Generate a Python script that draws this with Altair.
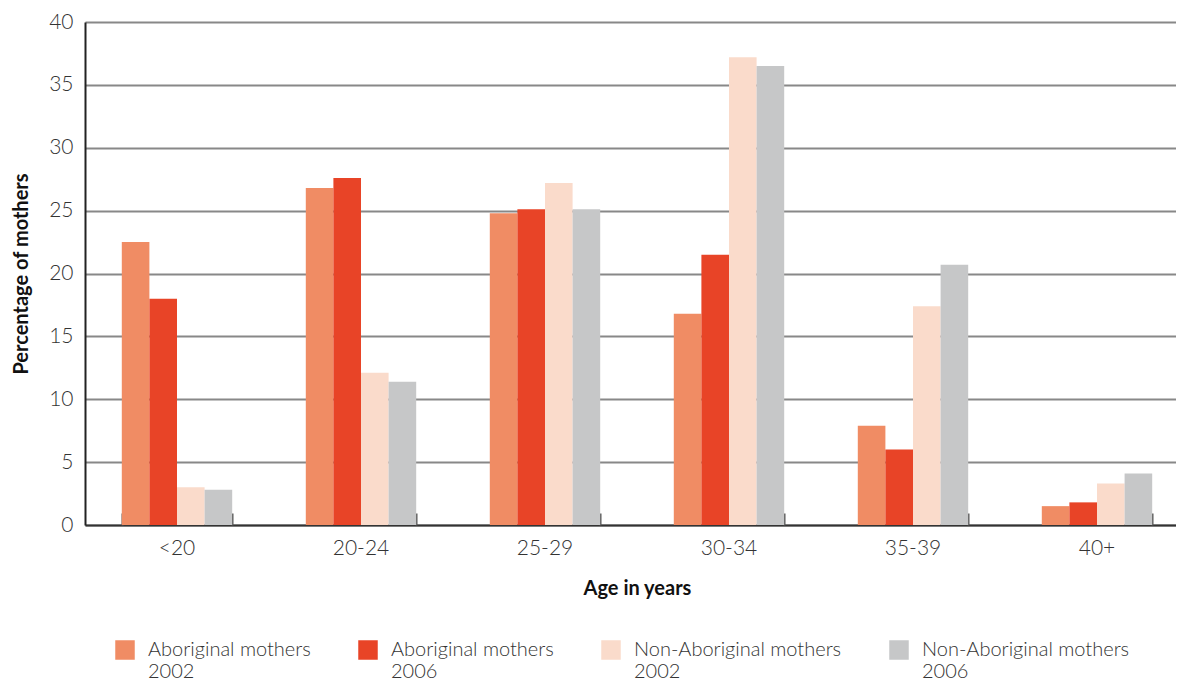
import altair as alt
import pandas as pd

ages = ["<20", "20-24", "25-29", "30-34", "35-39", "40+"]
series = ["Aboriginal mothers|2002", "Aboriginal mothers|2006",
          "Non-Aboriginal mothers|2002", "Non-Aboriginal mothers|2006"]
ab2002 = [22.5, 26.8, 24.8, 16.8, 7.9, 1.5]
ab2006 = [18.0, 27.6, 25.1, 21.5, 6.0, 1.8]
non2002 = [3.0, 12.1, 27.2, 37.2, 17.4, 3.3]
non2006 = [2.8, 11.4, 25.1, 36.5, 20.7, 4.1]
colors = ["#F08C64", "#E84427", "#FADBCB", "#C6C7C8"]

rows = []
for s, vals in zip(series, [ab2002, ab2006, non2002, non2006]):
    for a, v in zip(ages, vals):
        rows.append({"age": a, "series": s, "value": v})
df = pd.DataFrame(rows)

FONT = "Lato"
H = 503
W = 1091
FULL = 1104

xscale = alt.Scale(domain=ages, range=[0, FULL], paddingInner=0.4, paddingOuter=0.2)

bars = alt.Chart(df).mark_bar().encode(
    x=alt.X("age:N", scale=xscale, sort=ages,
            axis=alt.Axis(title="Age in years", ticks=False, labelAngle=0,
                          labelPadding=12, titlePadding=20,
                          domainColor="#333333", domainWidth=2)),
    xOffset=alt.XOffset("series:N", sort=series, scale=alt.Scale(paddingInner=0)),
    y=alt.Y("value:Q", scale=alt.Scale(domain=[0, 40], nice=False),
            axis=alt.Axis(title="Percentage of mothers", values=list(range(0, 41, 5)),
                          ticks=False, domainColor="#222222", domainWidth=2,
                          gridColor="#888888", gridWidth=2, labelPadding=12,
                          titlePadding=17)),
    color=alt.Color("series:N", sort=series,
                    scale=alt.Scale(domain=series, range=colors),
                    legend=alt.Legend(title=None, orient="none", direction="horizontal",
                                      columns=4, legendX=30, legendY=618,
                                      symbolType="square", symbolSize=380,
                                      symbolStrokeWidth=0, symbolOpacity=1,
                                      labelExpr="split(datum.label, '|')",
                                      labelBaseline="middle", labelOffset=13,
                                      columnPadding=47, labelLimit=300)),
)

ticks = alt.Chart(df).mark_rule(opacity=0).encode(
    x=alt.X("age:N", scale=xscale, sort=ages, bandPosition=0,
            axis=alt.Axis(orient="top", offset=-H, title=None, labels=False,
                          domain=False, ticks=True, tickSize=12, tickWidth=2,
                          tickColor="#555555", tickBand="extent", grid=False)),
)

chart = alt.layer(bars, ticks).resolve_axis(x="independent").properties(
    width=W, height=H,
    autosize=alt.AutoSizeParams(type="none"),
    padding={"left": 77, "top": 14, "right": 0, "bottom": 157}
).configure_view(stroke=None).configure_axis(
    labelFont=FONT, titleFont=FONT, labelFontSize=21, titleFontSize=20,
    labelColor="#333333", titleColor="#111111", labelFontWeight=300,
    titleFontWeight="bold"
).configure_axisX(grid=False).configure_legend(
    labelFont=FONT, labelFontSize=20, labelColor="#333333", labelFontWeight=300
)

chart.save("out.html", embed_options={"renderer": "svg", "actions": False})
